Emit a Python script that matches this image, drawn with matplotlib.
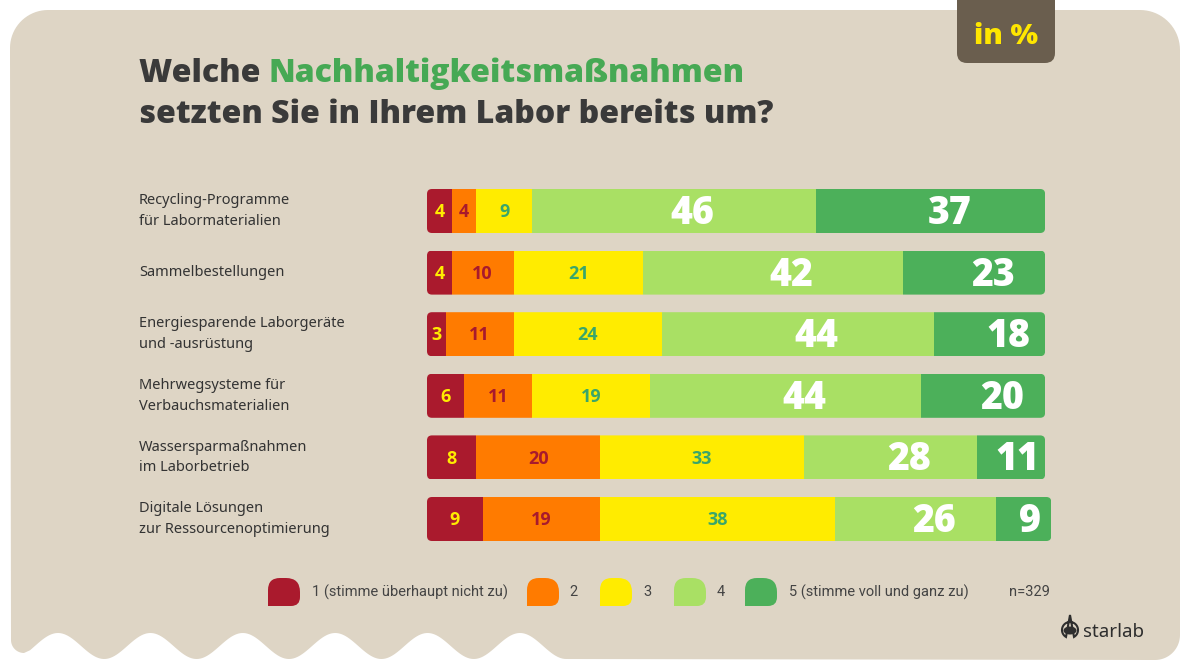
import numpy as np
import matplotlib.pyplot as plt
from matplotlib.patches import FancyBboxPatch, PathPatch, Polygon, Ellipse
from matplotlib.path import Path

# canvas in pixels
W, H = 1190, 670

# data
questions = ["Recycling-Programme\nfür Labormaterialien",
             "Sammelbestellungen",
             "Energiesparende Laborgeräte\nund -ausrüstung",
             "Mehrwegsysteme für\nVerbauchsmaterialien",
             "Wassersparmaßnahmen\nim Laborbetrieb",
             "Digitale Lösungen\nzur Ressourcenoptimierung"]
score_1 = [4, 4, 3, 6, 8, 9]
score_2 = [4, 10, 11, 11, 20, 19]
score_3 = [9, 21, 24, 19, 33, 38]
score_4 = [46, 42, 44, 44, 28, 26]
score_5 = [37, 23, 18, 20, 11, 9]
legend_labels = ["1 (stimme überhaupt nicht zu)", "2", "3", "4", "5 (stimme voll und ganz zu)"]
n_text = "n=329"

seg_colors = ["#AA1A2D", "#FF7B00", "#FFEC00", "#A9E064", "#4CB05A"]
txt_colors = ["#FFEC00", "#A81A2D", "#3AA66A", "white", "white"]
bg = "#DED5C5"
dark = "#3A3A3A"

fig = plt.figure(figsize=(W / 100, H / 100), dpi=100)
fig.patch.set_facecolor("white")

# overlay axes in pixel coords for decoration
ov = fig.add_axes([0, 0, 1, 1], zorder=0)
ov.set_xlim(0, W)
ov.set_ylim(H, 0)
ov.axis("off")

# panel with rounded top and wavy bottom-left edge
def arc(cx, cy, r, a0, a1, n=20):
    t = np.radians(np.linspace(a0, a1, n))
    return np.column_stack([cx + r * np.cos(t), cy + r * np.sin(t)])

P = 92.4
pts = []
pts.append(arc(48, 48, 38, 180, 270))          # top-left
pts.append(arc(1140, 50, 40, 270, 360))        # top-right
pts.append(arc(1155, 635, 25, 0, 90))          # bottom-right
xs = np.linspace(58 + 5.5 * P, 30, 300)
ys = 646 - 13 * np.cos(2 * np.pi * (xs - 58) / P)
pts.append(np.column_stack([xs, ys]))
pts.append(arc(24, 640, 13, 90, 180))
pts = np.vstack(pts)
ov.add_patch(Polygon(pts, closed=True, facecolor=bg, edgecolor="none"))

# "in %" tag
tag = FancyBboxPatch((957, -20), 98, 83, boxstyle="round,pad=0,rounding_size=10",
                     facecolor="#6A5E4E", edgecolor="none")
ov.add_patch(tag)
ov.text(1006, 37, "in %", color="#FFE600", fontsize=21, fontweight="heavy",
        family="Open Sans", ha="center", va="center")

# title
t1 = ov.text(139, 82, "Welche ", color=dark, fontsize=23, fontweight="heavy",
             family="Open Sans", va="baseline")
fig.canvas.draw()
bb = t1.get_window_extent()
ov.text(bb.x1, 82, "Nachhaltigkeitsmaßnahmen", color="#46A954", fontsize=23,
        fontweight="heavy", family="Open Sans", va="baseline")
ov.text(139, 123, "setzten Sie in Ihrem Labor bereits um?", color=dark, fontsize=23,
        fontweight="heavy", family="Open Sans", va="baseline")

# bar axes: 0..105 % across 649 px starting at x=427
row0, step = 211, 61.6
top_px, bot_px = 180, 550
ax = fig.add_axes([427 / W, (H - bot_px) / H, 649 / W, (bot_px - top_px) / H], zorder=2)
ax.set_xlim(0, 105)
ax.set_ylim((bot_px - row0) / step, (top_px - row0) / step)
ax.axis("off")
ax.patch.set_alpha(0)

y = np.arange(len(questions))
bh = 44 / step
series = [score_1, score_2, score_3, score_4, score_5]
totals = np.sum(series, axis=0)

clips = []
for i in y:
    cp = FancyBboxPatch((0, i - bh / 2), totals[i], bh,
                        boxstyle="round,pad=0,rounding_size=0.8",
                        mutation_aspect=(1 / step) / (1 / 6.18),
                        facecolor="none", edgecolor="none")
    ax.add_patch(cp)
    clips.append(cp)

left = np.zeros(len(questions))
for k, vals in enumerate(series):
    bars = ax.barh(y, vals, left=left, height=bh, color=seg_colors[k], edgecolor="none")
    for i, b in enumerate(bars):
        b.set_clip_path(clips[i])
        big = k >= 3
        shift = (3 if vals[i] >= 18 else 1) if big else 0
        ax.text(left[i] + vals[i] / 2 + shift, i + (0.04 if big else 0.02), str(vals[i]),
                color=txt_colors[k], ha="center", va="center",
                fontsize=27 if big else 13, fontweight="heavy" if big else "bold",
                family="Open Sans")
    left += np.array(vals)

# row labels
for i, q in enumerate(questions):
    ov.text(139, row0 + step * i, q, color="#333333", fontsize=10.5, family="Noto Sans",
            va="center", ha="left", linespacing=1.5)

# legend blobs
def blob(x, yy, w, h, r1=12, r2=14, r3=9):
    verts = [(x, yy + h), (x, yy + r1), (x, yy), (x + r1, yy),
             (x + w - r2, yy), (x + w, yy), (x + w, yy + r2),
             (x + w, yy + h - r3), (x + w, yy + h), (x + w - r3, yy + h),
             (x, yy + h), (x, yy + h)]
    codes = [Path.MOVETO, Path.LINETO, Path.CURVE3, Path.CURVE3,
             Path.LINETO, Path.CURVE3, Path.CURVE3,
             Path.LINETO, Path.CURVE3, Path.CURVE3,
             Path.LINETO, Path.CLOSEPOLY]
    return Path(verts, codes)

blob_x = [268, 527, 600, 674, 745]
text_x = [312, 569, 643, 717, 789]
for k in range(5):
    ov.add_patch(PathPatch(blob(blob_x[k], 578, 32, 28), facecolor=seg_colors[k],
                           edgecolor="none"))
    ov.text(text_x[k], 592, legend_labels[k], color="#444444", fontsize=10.5,
            family="Roboto", va="center")
ov.text(1009, 592, n_text, color="#444444", fontsize=10.5, family="Roboto", va="center")

# starlab logo: drop outline with a dark lens inside
t = np.radians(np.linspace(-60, 240, 60))
drop = np.column_stack([1070 + 8 * np.cos(t), 630 - 8 * np.sin(t)])
drop = np.vstack([drop, [[1070, 615]], drop[:1]])
ov.add_patch(Polygon(drop, closed=True, facecolor="none", edgecolor="#2E2E2E", lw=1.5))
ov.add_patch(Ellipse((1070, 630.5), 13, 8, facecolor="#2E2E2E", edgecolor="none"))
ov.text(1083, 632, "starlab", color="#2E2E2E", fontsize=13.5, family="Noto Sans",
        va="center", ha="left")

fig.savefig("out.png", dpi=100, facecolor="white")
